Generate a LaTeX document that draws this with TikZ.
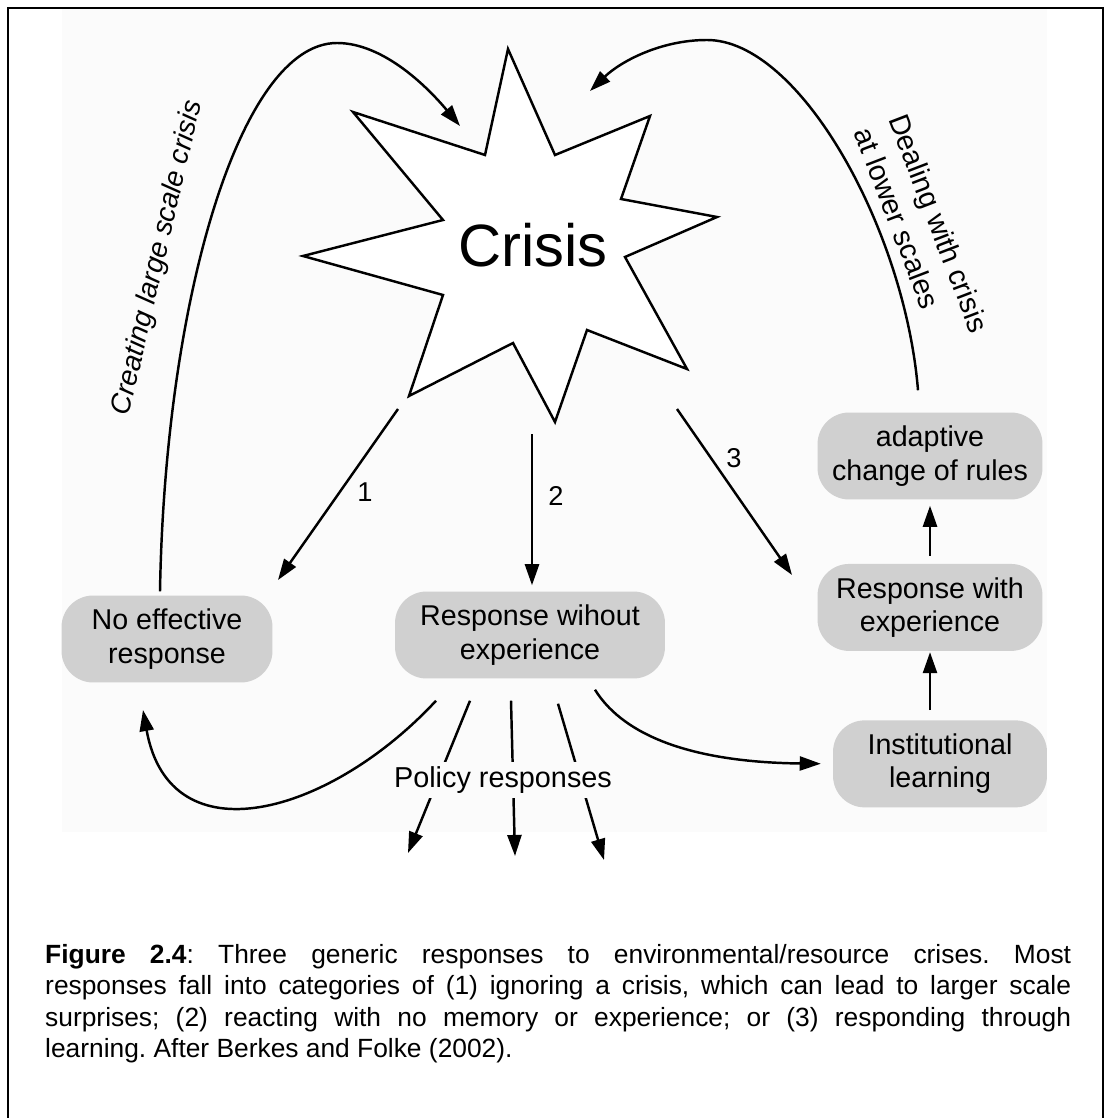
\documentclass[tikz,border=0pt]{standalone}
\usepackage{fontspec}
\setmainfont{Liberation Sans}
\usetikzlibrary{positioning,calc,arrows.meta}
\definecolor{panel}{HTML}{FBFBFB}
\definecolor{boxgray}{HTML}{D0D0D0}

\begin{document}
\begin{tikzpicture}[>={Triangle[length=12pt,width=8pt]}, x=0.02cm, y=-0.02cm, line width=1.4pt]
  \tikzstyle{box}=[rectangle, rounded corners=18pt, fill=boxgray, align=center, minimum height=1.74cm, inner sep=2pt, font=\fontsize{16.3}{19}\selectfont]
  \tikzstyle{num}=[inner sep=0pt, font=\fontsize{15.5}{18}\selectfont]

  \useasboundingbox (0,0) rectangle (1104,1118);
  \fill[white] (0,0) rectangle (1104,1118);
  \fill[panel] (62,9) rectangle (1047,832);
  \draw[line width=1.1pt] (8,8) rectangle (1103,1140);

  \draw[fill=white] (508,49) -- (555,155) -- (650,116) -- (621,199) -- (717,217) -- (625,257) -- (687,369) -- (587,330)
    -- (555,422) -- (513,343) -- (409,396) -- (443,295) -- (303,256) -- (443,220) -- (353,112) -- (485,155) -- cycle;
  \node[inner sep=0pt, font=\fontsize{34}{40}\selectfont] (crisis) at (533,245) {Crisis};

  \node[box, minimum width=4.22cm] (ner) at (167,639) {No effective\\response};
  \node[box, minimum width=5.4cm] (rw) at (530,635) {Response wihout\\experience};
  \node[box, minimum width=4.5cm] (acr) at (930,456) {adaptive\\change of rules};
  \node[box, minimum width=4.5cm, below=1.24cm of acr] (rwe) {Response with\\experience};
  \node[box, minimum width=4.28cm, below=1.34cm of rwe, xshift=0.2cm] (irb) {Institutional\\learning};

  \node[rotate=77, font=\fontsize{16}{19}\selectfont\itshape] (lcl) at (158,258) {Creating large scale crisis};
  \node[rotate=-69, align=left, font=\fontsize{16.4}{21}\selectfont] (rcl) at (922,230) {Dealing with crisis\\at lower scales};

  \coordinate (c1) at (398,409);
  \coordinate (e1) at (278,580);
  \coordinate (c2) at (532,434);
  \coordinate (c3) at (677,409);
  \coordinate (e3) at (792,575);
  \coordinate (ecl) at (460,126);
  \coordinate (ecr) at (590,91);
  \coordinate (epl) at (143,710);
  \coordinate (pa) at (408,853);
  \coordinate (pb) at (515,856);
  \coordinate (pc) at (604,860);

  \draw[->] (c1) -- (e1);
  \draw[->, shorten >=0.1cm] (c2) -- (c2 |- rw.north);
  \draw[->] (c3) -- (e3);
  \node[num] (n1) at (365,492) {1};
  \node[num] (n2) at (556,496) {2};
  \node[num] (n3) at (734,458) {3};

  \draw[->] ($(ner.north)+(-7,-3)$) .. controls (165,300) and (240,43) .. (337,43) .. controls (385,43) and (430,90) .. (ecl);
  \draw[->] ($(acr.north)+(-12,-21)$) .. controls (905,230) and (800,40) .. (707,40) .. controls (660,40) and (620,62) .. (ecr);

  \draw[->, shorten <=0.14cm, shorten >=0.1cm] (rwe.north) -- (acr.south);
  \draw[->, shorten <=0.18cm] (rwe.south |- irb.north) -- (rwe.south);

  \draw[->] ($(rw.south)+(-60,21)$) -- (pa);
  \draw[->] ($(rw.south)+(-19,21)$) -- (pb);
  \draw[->] ($(rw.south)+(28,24)$) -- (pc);
  \draw[->] ($(rw.south)+(-94,21)$) .. controls (330,815) and (170,860) .. (epl);
  \draw[->, shorten >=0.22cm] ($(rw.south)+(65,10)$) .. controls (620,730) and (680,762) .. (irb.west);
  \node[fill=panel, inner sep=2.5pt, font=\fontsize{16.4}{19}\selectfont] (pol) at (503,780) {Policy responses};

  \node[anchor=north west, inner sep=0pt, text width=583.9pt, align=justify, font=\fontsize{15}{17.9}\selectfont] (cap) at (44,943)
    {\frenchspacing\tolerance=10000\hyphenpenalty=10000 \textbf{Figure 2.4}: Three generic responses to environmental/resource crises. Most\linebreak
    responses fall into categories of (1) ignoring a crisis, which can lead to larger scale\linebreak
    surprises; (2) reacting with no memory or experience; or (3) responding through\linebreak
    learning. After Berkes and Folke (2002).};
\end{tikzpicture}
\end{document}
